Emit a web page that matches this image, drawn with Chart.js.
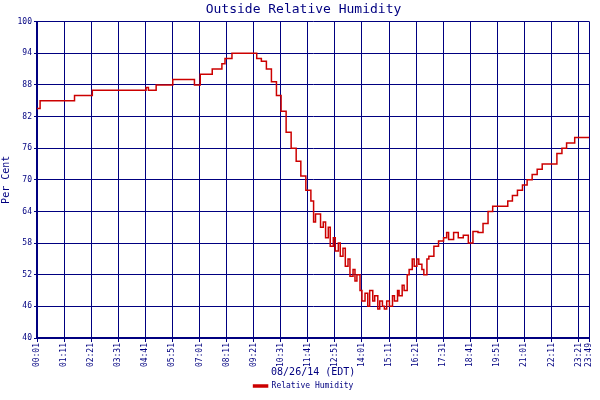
<!DOCTYPE html>
<html>
<head>
<script src="https://cdn.jsdelivr.net/npm/chart.js@4"></script>
<style>body{margin:0;background:#fff}</style>
</head>
<body>
<canvas id="rh" width="600" height="400"></canvas>
<script>
// minutes after midnight, relative humidity (%)
const minutes = [1, 9, 98, 144, 283, 289, 309, 352, 408, 423, 454, 479, 487, 505, 563, 569, 581, 594, 607, 620, 632, 645, 658, 671, 683, 696, 709, 716, 721, 734, 741, 747, 754, 759, 767, 772, 780, 785, 792, 798, 805, 810, 818, 823, 828, 836, 841, 849, 856, 861, 869, 874, 882, 887, 894, 899, 905, 912, 920, 925, 933, 937, 945, 950, 958, 963, 971, 976, 983, 988, 996, 1001, 1009, 1014, 1027, 1039, 1052, 1060, 1065, 1078, 1090, 1103, 1116, 1128, 1141, 1154, 1167, 1179, 1205, 1218, 1230, 1243, 1256, 1268, 1281, 1294, 1307, 1332, 1345, 1358, 1370, 1391, 1429];
const humidity = [83.5, 85, 86, 87, 87.5, 87, 88, 89, 88, 90, 91, 92, 93, 94, 94, 93, 92.5, 91, 88.6, 86, 83, 79, 76, 73.5, 70.7, 68, 66, 62, 63.5, 61, 62, 59, 61, 57.4, 59, 56.5, 58, 55.5, 57, 53.6, 55, 51.7, 53, 50.8, 52, 49, 47, 48.5, 46, 49, 47, 48, 45.5, 47, 46, 45.5, 47, 46, 48, 47, 49, 48, 50, 49, 52, 53, 55, 53.6, 55, 54, 53, 52, 55, 55.5, 57.4, 58.4, 59, 60, 58.7, 60, 59, 59.5, 58, 60.2, 60, 61.7, 64, 65, 65, 66, 67, 68, 69, 70, 71, 72, 73, 73, 75, 76, 77, 78, 78];
const tickMinutes = [1, 71, 141, 211, 281, 351, 421, 491, 561, 631, 701, 771, 841, 911, 981, 1051, 1121, 1191, 1261, 1331, 1401, 1429];
const yTicks = [40, 46, 52, 58, 64, 70, 76, 82, 88, 94, 100];

const navy = '#000080';
const font = { family: 'DejaVu Sans Mono', size: 10 };
const pad = n => String(n).padStart(2, '0');

new Chart(document.getElementById('rh'), {
  type: 'line',
  data: {
    datasets: [{
      label: 'Relative Humidity',
      data: minutes.map((m, i) => ({ x: m, y: humidity[i] })),
      borderColor: '#cc0000',
      backgroundColor: '#cc0000',
      borderWidth: 1.5,
      pointRadius: 0,
      stepped: true
    }]
  },
  options: {
    responsive: false,
    animation: false,
    layout: { padding: { right: -7 } },
    scales: {
      x: {
        type: 'linear',
        min: 1,
        max: 1429,
        afterBuildTicks: s => { s.ticks = tickMinutes.map(v => ({ value: v })); },
        afterFit: s => { s.height = 40; },
        grid: { color: navy, lineWidth: 1, tickLength: 4 },
        border: { color: navy, width: 2 },
        ticks: {
          color: navy,
          font: { family: 'DejaVu Sans Mono', size: 8 },
          maxRotation: 90,
          minRotation: 90,
          autoSkip: false,
          padding: 1,
          callback: v => pad(Math.floor(v / 60)) + ':' + pad(v % 60)
        },
        title: { display: true, text: '08/26/14 (EDT)', color: navy, font: font, padding: 0 }
      },
      y: {
        min: 40,
        max: 100,
        afterBuildTicks: s => { s.ticks = yTicks.map(v => ({ value: v })); },
        afterFit: s => { s.width = 37; },
        grid: { color: navy, lineWidth: 1, tickLength: 3 },
        border: { color: navy, width: 2 },
        ticks: { color: navy, font: { family: 'DejaVu Sans Mono', size: 8 }, padding: 2 },
        title: { display: true, text: 'Per Cent', color: navy, font: font, padding: 0 }
      }
    },
    plugins: {
      title: { display: true, text: 'Outside Relative Humidity', color: navy, font: { family: 'DejaVu Sans Mono', size: 13, weight: 'normal' }, padding: { top: 2, bottom: 4 } },
      legend: {
        position: 'bottom',
        labels: { color: navy, font: { family: 'DejaVu Sans Mono', size: 8 }, boxWidth: 14, boxHeight: 2, padding: 4 }
      },
      tooltip: { enabled: false }
    }
  }
});
</script>
</body>
</html>
